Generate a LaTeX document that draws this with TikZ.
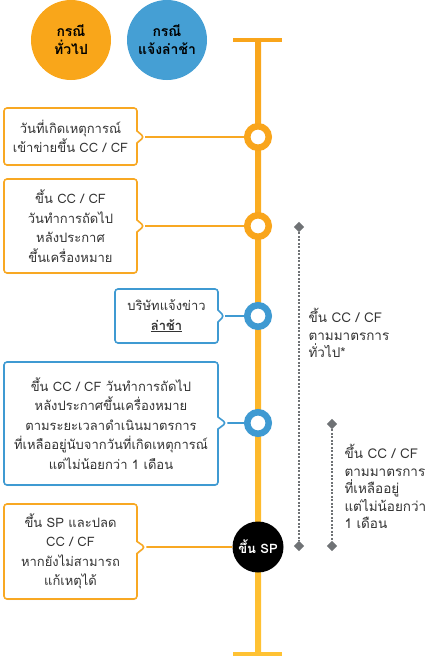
\documentclass[tikz,border=0pt]{standalone}
\usepackage{fontspec}
\newfontfamily\thaifont[Script=Thai]{Loma}
\usetikzlibrary{shapes.callouts,shapes.geometric,shadows,positioning}
\definecolor{tlorange}{HTML}{F9A51B}
\definecolor{tlyellow}{HTML}{FFC233}
\definecolor{caseorange}{HTML}{F9A61A}
\definecolor{caseblue}{HTML}{459FD4}
\definecolor{boxorange}{HTML}{F8A823}
\definecolor{boxblue}{HTML}{3F9AD2}
\definecolor{txtgray}{HTML}{333333}
\definecolor{markgray}{HTML}{6F7275}

\begin{document}
\begin{tikzpicture}[x=1pt,y=-1pt,
	every node/.style={font=\thaifont\fontsize{13}{19.5}\selectfont, text=txtgray},
	casedot/.style={circle, minimum size=80pt, inner sep=0pt, text=black,
		font=\thaifont\bfseries\fontsize{14}{18}\selectfont, align=center},
	stop/.style={circle, draw=#1, line width=6.5pt, fill=white, minimum size=21.5pt,
		inner sep=0pt, drop shadow={opacity=0.12, shadow xshift=0pt, shadow yshift=-1.5pt}},
	note/.style={rectangle callout, draw=#1, line width=1.6pt, fill=white, rounded corners=3pt,
		align=center, inner sep=0pt, callout pointer width=12pt,
		drop shadow={opacity=0.12, shadow xshift=0.5pt, shadow yshift=-1pt}},
	link/.style={draw=#1, line width=1.8pt},
	gmark/.style={diamond, fill=markgray, minimum size=10.5pt, inner sep=0pt},
	dots/.style={draw=markgray, line width=2.2pt, dash pattern=on 2pt off 1.5pt},
	side/.style={anchor=west, align=left, font=\thaifont\fontsize{13.5}{17.5}\selectfont}]
	\useasboundingbox (0,0) rectangle (440,656);
	% time line
	\shade[top color=tlorange, bottom color=tlyellow] (255,40) rectangle (261,653);
	\fill[tlorange] (233,37.5) rectangle (282,41.5);
	\fill[tlyellow] (233,651.5) rectangle (282,655.5);
	% legend
	\node[casedot, fill=caseorange] (general) at (71,40) {กรณี\\ทั่วไป};
	\node[casedot, fill=caseblue] (late) at (167,40) {กรณี\\แจ้งล่าช้า};
	% stops
	\node[stop=tlorange] (s1) at (258,137) {};
	\node[stop=tlorange] (s2) at (258,226) {};
	\node[stop=boxblue] (s3) at (258,316) {};
	\node[stop=boxblue] (s4) at (258,423) {};
	\node[circle, fill=black, minimum size=51pt, inner sep=0pt, text=white,
		font=\thaifont\bfseries\fontsize{13}{18}\selectfont] (sp) at (258,547) {ขึ้น SP};
	% notes
	\node[note=boxorange, minimum width=133pt, minimum height=57pt,
		callout absolute pointer={(144,137)}] (n1) at (70.5,136.5)
		{วันที่เกิดเหตุการณ์\\เข้าข่ายขึ้น CC / CF};
	\node[note=boxorange, minimum width=133pt, minimum height=94pt,
		callout absolute pointer={(144,226)}] (n2) at (70.5,226)
		{ขึ้น CC / CF\\วันทำการถัดไป\\หลังประกาศ\\ขึ้นเครื่องหมาย};
	\node[note=boxblue, minimum width=103pt, minimum height=54pt,
		callout absolute pointer={(224,316)}] (n3) at (166.5,316)
		{บริษัทแจ้งข่าว\\\textbf{\underline{ล่าช้า}}};
	\node[note=boxblue, minimum width=214pt, minimum height=123pt,
		callout absolute pointer={(226,423)}] (n4) at (111,423.5)
		{ขึ้น CC / CF วันทำการถัดไป\\หลังประกาศขึ้นเครื่องหมาย\\ตามระยะเวลาดำเนินมาตรการ\\ที่เหลืออยู่นับจากวันที่เกิดเหตุการณ์\\แต่ไม่น้อยกว่า 1 เดือน};
	\node[note=boxorange, minimum width=133pt, minimum height=95pt,
		callout absolute pointer={(145,547)}] (n5) at (70.5,551.5)
		{ขึ้น SP และปลด\\CC / CF\\หากยังไม่สามารถ\\แก้เหตุได้};
	% links
	\draw[link=boxorange] (n1.pointer) -- (s1);
	\draw[link=boxorange] (n2.pointer) -- (s2);
	\draw[link=boxblue] (n3.pointer) -- (s3);
	\draw[link=boxblue] (n4.pointer) -- (s4);
	\draw[link=boxorange] (n5.pointer) -- (sp);
	% ranges
	\node[gmark] (g1t) at (299,227) {};
	\node[gmark] (g1b) at (299,546) {};
	\draw[dots] (g1t) -- (g1b);
	\node[gmark] (g2t) at (332,424) {};
	\node[gmark] (g2b) at (332,546) {};
	\draw[dots] (g2t) -- (g2b);
	\node[side] (r1) at (305,333) {ขึ้น CC / CF\\ตามมาตรการ\\ทั่วไป*};
	\node[side] (r2) at (341,486.5) {ขึ้น CC / CF\\ตามมาตรการ\\ที่เหลืออยู่\\แต่ไม่น้อยกว่า\\1 เดือน};
\end{tikzpicture}
\end{document}
